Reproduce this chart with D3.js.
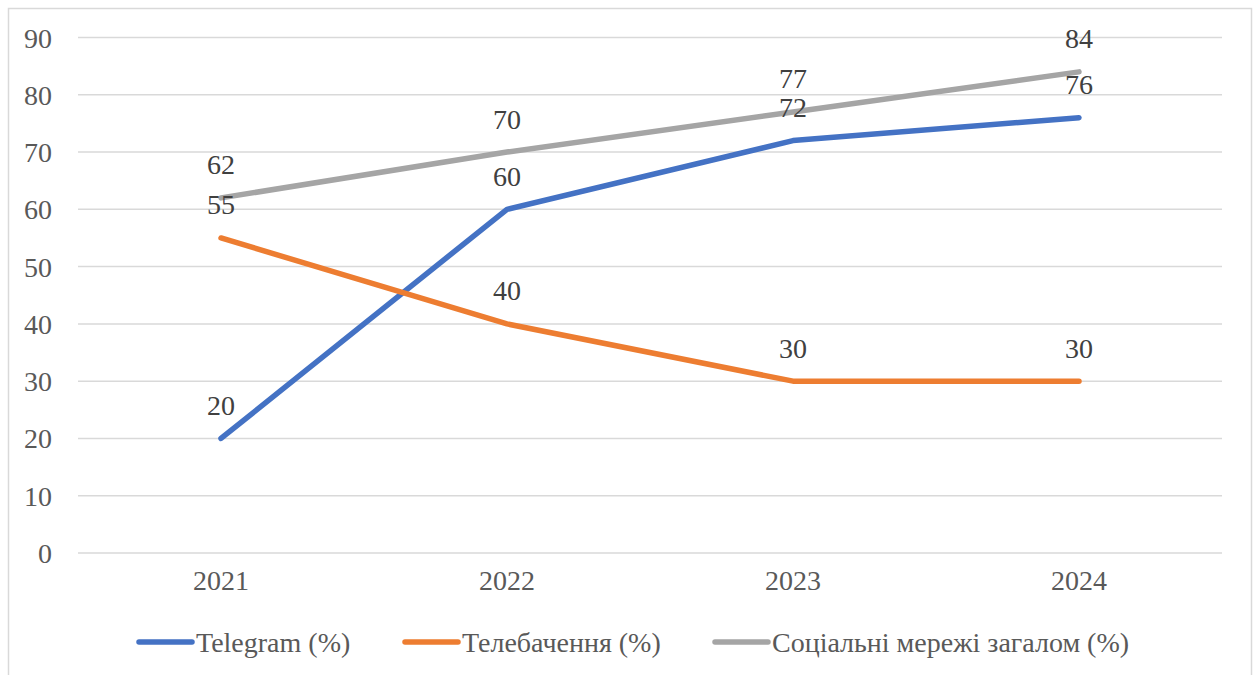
<!DOCTYPE html>
<html><head><meta charset="utf-8">
<script src="https://cdn.jsdelivr.net/npm/d3@7"></script>
<style>body{margin:0;background:#fff}svg{display:block}</style>
</head><body>
<svg id="c" width="1256" height="675" font-family="Liberation Serif, serif"></svg>
<script>
const years = ["2021","2022","2023","2024"];
const telegram = [20,60,72,76];
const tv = [55,40,30,30];
const social = [62,70,77,84];
const yTicks = [0,10,20,30,40,50,60,70,80,90];
const seriesNames = ["Telegram (%)","Телебачення (%)","Соціальні мережі загалом (%)"];
const colors = ["#4472C4","#ED7D31","#A5A5A5"];
const FONT = "Liberation Serif, serif";
const FS = 28;

const svg = d3.select("#c");
svg.append("rect").attr("x",8.5).attr("y",8.5).attr("width",1243).attr("height",700)
  .attr("fill","#fff").attr("stroke","#D9D9D9").attr("stroke-width",1.5);

const x = d3.scaleBand().domain(years).range([78,1222]);
const y = d3.scaleLinear().domain([0,90]).range([553,37.5]);
const cx = d => x(d) + x.bandwidth()/2;

svg.append("g").selectAll("line").data(yTicks).join("line")
  .attr("x1",78).attr("x2",1222).attr("y1",d=>y(d)).attr("y2",d=>y(d))
  .attr("stroke","#D9D9D9").attr("stroke-width",1.5);

const yAxis = d3.axisLeft(y).tickValues(yTicks).tickSize(0).tickPadding(26);
const gy = svg.append("g").attr("transform","translate(78,0)").call(yAxis);
gy.select(".domain").remove();
gy.attr("font-family",FONT).attr("font-size",FS);
gy.selectAll("text").attr("font-family",FONT).attr("font-size",FS).attr("fill","#595959").attr("dy","0.34em");

const xAxis = d3.axisBottom(x).tickSize(0).tickPadding(17);
const gx = svg.append("g").attr("transform","translate(0,553)").call(xAxis);
gx.select(".domain").remove();
gx.attr("font-family",FONT).attr("font-size",FS);
gx.selectAll("text").attr("font-family",FONT).attr("font-size",FS).attr("fill","#595959");

const data = [telegram, tv, social];
const line = d3.line().x((d,i)=>cx(years[i])).y(d=>y(d));
data.forEach((s,k)=>{
  svg.append("path").datum(s).attr("d",line).attr("fill","none")
    .attr("stroke",colors[k]).attr("stroke-width",5.5)
    .attr("stroke-linecap","round").attr("stroke-linejoin","round");
});
data.forEach((s,k)=>{
  svg.append("g").selectAll("text").data(s).join("text")
    .attr("x",(d,i)=>cx(years[i])).attr("y",d=>y(d)-33)
    .attr("dy","0.34em").attr("text-anchor","middle")
    .attr("font-family",FONT)
    .attr("font-size",FS).attr("fill","#404040").text(d=>d);
});

const legX = [137,403,713];
const leg = svg.append("g");
seriesNames.forEach((n,k)=>{
  leg.append("line").attr("x1",legX[k]+2).attr("x2",legX[k]+55).attr("y1",642).attr("y2",642)
    .attr("stroke",colors[k]).attr("stroke-width",5.5).attr("stroke-linecap","round");
  leg.append("text").attr("x",legX[k]+59).attr("y",642).attr("dy","0.34em")
    .attr("font-family",FONT)
    .attr("font-size",FS).attr("fill","#595959").text(n);
});
</script>
</body></html>
